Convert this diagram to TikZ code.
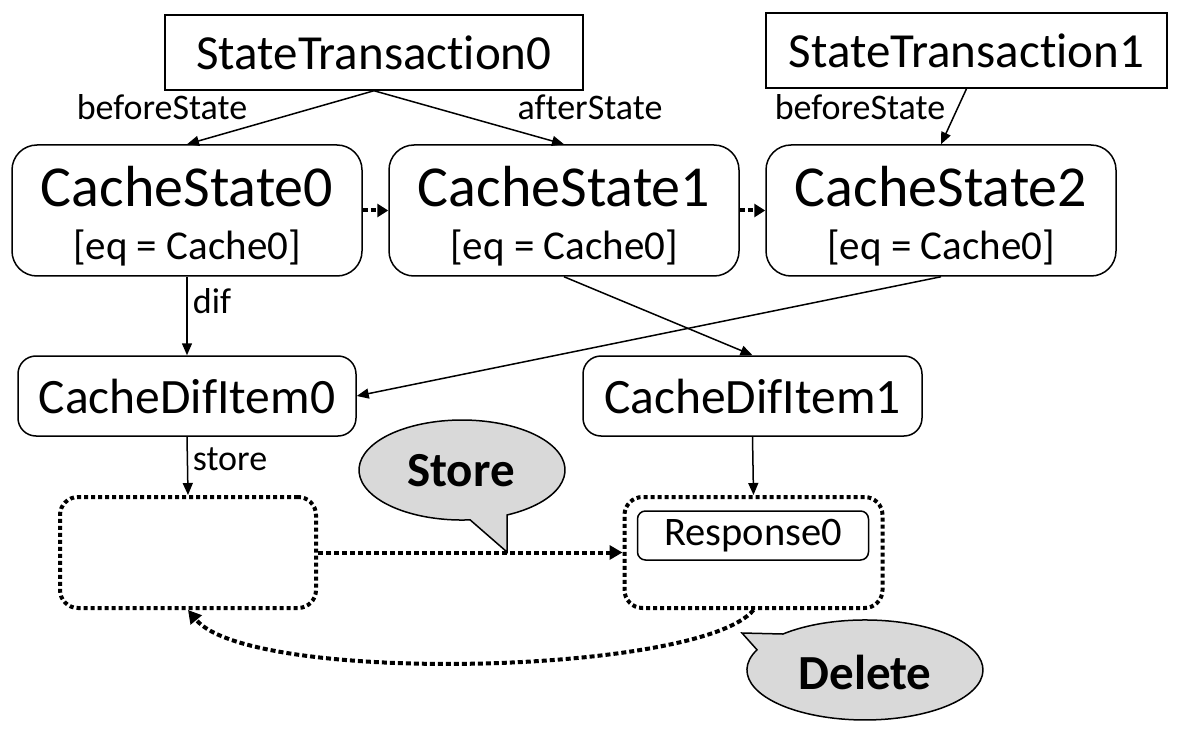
\documentclass[tikz,border=0pt]{standalone}
\usepackage{fontspec}
\setmainfont{Carlito}[Ligatures=NoCommon]
\usetikzlibrary{arrows.meta}
\begin{document}
\begin{tikzpicture}[x=1pt,y=-1pt,
  arr/.style={line width=1.5pt, -{Triangle[length=12pt,width=10pt]}},
  darr/.style={line width=4pt, dash pattern=on 5pt off 3pt, -{Triangle[length=13pt,width=14pt]}},
  sdarr/.style={line width=4pt, dash pattern=on 5pt off 3pt, -{Triangle[length=11pt,width=13pt]}},
  stbox/.style={draw, line width=1.5pt, inner sep=0pt, minimum height=75pt, font=\fontsize{49}{58}\selectfont},
  csbox/.style={draw, line width=1.5pt, rounded corners=25pt, minimum width=350pt, minimum height=131pt, inner sep=0pt},
  cstxt/.style={inner sep=0pt, font=\fontsize{58}{66}\selectfont},
  eqtxt/.style={inner sep=0pt, font=\fontsize{41}{48}\selectfont},
  cdibox/.style={draw, line width=1.5pt, rounded corners=18pt, minimum height=80pt, inner sep=0pt, font=\fontsize{49.5}{58}\selectfont},
  dotbox/.style={draw, line width=4pt, dash pattern=on 4pt off 3pt, rounded corners=18pt, minimum width=256pt, minimum height=111pt, inner sep=0pt},
  respbox/.style={draw, line width=1.5pt, rounded corners=8pt, minimum width=231pt, minimum height=49pt, inner sep=0pt, font=\fontsize{40.5}{48}\selectfont},
  lbl/.style={inner sep=0pt, font=\fontsize{36}{42}\selectfont},
  bubble/.style={draw, line width=1.5pt, fill=gray!30},
  bubtxt/.style={inner sep=0pt, font=\bfseries\fontsize{49}{58}\selectfont}
]
\useasboundingbox (0,0) rectangle (1180,735);
\fill[white] (0,0) rectangle (1180,735);

% top transactions
\node[stbox, minimum width=418pt] (st0) at (374,52.5) {StateTransaction0};
\node[stbox, minimum width=401pt] (st1) at (966.5,50.5) {StateTransaction1};

% cache states
\node[csbox] (cs0) at (187,210.5) {};
\node[csbox] (cs1) at (564,210.5) {};
\node[csbox] (cs2) at (941,210.5) {};
\node[cstxt] (cs0t) at (187,187) {CacheState0};
\node[cstxt] (cs1t) at (564,187) {CacheState1};
\node[cstxt] (cs2t) at (941,187) {CacheState2};
\node[eqtxt] (cs0e) at (187,248) {[eq = Cache0]};
\node[eqtxt] (cs1e) at (564,248) {[eq = Cache0]};
\node[eqtxt] (cs2e) at (941,248) {[eq = Cache0]};

% dif items
\node[cdibox, minimum width=338pt] (cdi0) at (187,396) {CacheDifItem0};
\node[cdibox, minimum width=339pt] (cdi1) at (752.5,396) {CacheDifItem1};

% dotted containers
\node[dotbox] (box0) at (188,552.5) {};
\node[dotbox, minimum width=258pt] (box1) at (753.5,552.5) {};
\node[respbox] (resp0) at (753,535.5) {Response0};

% labels
\node[lbl] (l1) at (162,107) {beforeState};
\node[lbl] (l2) at (590,107) {afterState};
\node[lbl] (l3) at (860,107) {beforeState};
\node[lbl] (l4) at (212,301) {dif};
\node[lbl] (l5) at (230,459) {store};

% connectors
\draw[arr] (st0.south) -- (cs0.north);
\draw[arr] (st0.south) -- (cs1.north);
\draw[arr] (st1.south) -- (cs2.north);
\draw[sdarr] (cs0.east) -- (cs1.west);
\draw[sdarr] (cs1.east) -- (cs2.west);
\draw[arr] (cs0.south) -- (cdi0.north);
\draw[arr] (cs1.south) -- (cdi1.north);
\draw[arr] (cs2.south) -- (cdi0.east);
\draw[arr] (cdi0.south) -- (box0.north);
\draw[arr] (cdi1.south) -- (box1.north);
\draw[darr] (box0.east) -- (box1.west);
\draw[darr] (box1.south) .. controls (700,675) and (250,685) .. (box0.south);

% Store callout
\draw[bubble] (507,515) arc[start angle=-64.1, end angle=274.5, x radius=103pt, y radius=50pt] -- (507,552) -- cycle;
\node[bubtxt] (storet) at (461,471) {Store};

% Delete callout
\draw[bubble] (757,649.8) arc[start angle=156.2, end angle=494, x radius=118pt, y radius=50pt] -- (742,633) -- cycle;
\node[bubtxt] (deletet) at (865,672) {Delete};
\end{tikzpicture}
\end{document}
